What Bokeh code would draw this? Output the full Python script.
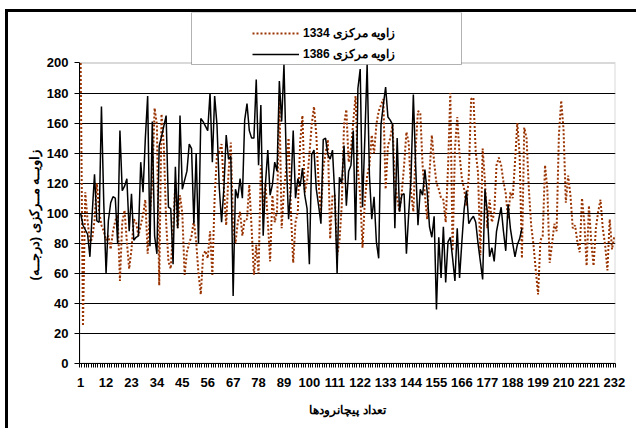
from bokeh.plotting import figure
from bokeh.models import Range1d, FixedTicker, Legend, LegendItem, BoxAnnotation, Title
from bokeh.embed import file_html
from bokeh.resources import INLINE

categories = list(range(1, 233))
x_tick_labels = [1, 12, 23, 34, 45, 56, 67, 78, 89, 100, 111, 122, 133, 144,
                 155, 166, 177, 188, 199, 210, 221, 232]
y_ticks = [0, 20, 40, 60, 80, 100, 120, 140, 160, 180, 200]

name_1334 = "زاویه مرکزی 1334"
name_1386 = "زاویه مرکزی 1386"
x_title = "تعداد پیچانرودها"
y_title = "زاویــه مــرکزی (درجــه)"

series_1334 = [
    200, 25, 114, 95, 81, 83, 95, 120, 101, 92,
    88, 82, 85, 76, 88, 95, 99, 55, 94, 102,
    81, 63, 76, 96, 94, 85, 92, 99, 109, 73,
    100, 120, 170, 159, 52, 166, 145, 94, 68, 63,
    90, 121, 90, 112, 100, 59, 74, 80, 85, 95,
    81, 60, 46, 72, 75, 70, 88, 59, 111, 139,
    141, 146, 116, 92, 127, 147, 90, 80, 94, 101,
    85, 96, 96, 119, 90, 59, 79, 60, 132, 103,
    120, 95, 68, 112, 94, 101, 178, 90, 116, 130,
    150, 101, 67, 94, 101, 147, 165, 114, 121, 139,
    159, 171, 152, 120, 100, 130, 140, 149, 83, 112,
    112, 72, 81, 105, 159, 169, 134, 143, 161, 178,
    129, 112, 77, 108, 125, 132, 152, 140, 159, 168,
    172, 176, 116, 145, 150, 159, 121, 110, 101, 114,
    132, 154, 147, 114, 101, 143, 168, 167, 132, 112,
    96, 127, 152, 134, 120, 116, 110, 109, 94, 130,
    180, 75, 143, 164, 139, 123, 116, 105, 125, 176,
    177, 141, 127, 72, 143, 121, 90, 109, 94, 100,
    132, 137, 132, 121, 113, 96, 114, 110, 134, 160,
    139, 70, 157, 150, 116, 92, 79, 62, 46, 82,
    85, 132, 116, 67, 79, 93, 88, 152, 175, 156,
    107, 125, 112, 90, 92, 81, 74, 110, 94, 65,
    105, 81, 65, 90, 101, 109, 90, 79, 62, 96,
    76, 85,
]

series_1386 = [
    100, 92, 89, 86, 71, 100, 126, 95, 94, 171,
    107, 60, 95, 107, 111, 110, 80, 155, 115, 118,
    123, 88, 113, 82, 84, 85, 134, 114, 150, 178,
    78, 161, 85, 73, 145, 151, 158, 165, 104, 103,
    66, 131, 90, 165, 116, 122, 128, 146, 143, 93,
    140, 80, 163, 161, 158, 155, 180, 134, 178, 159,
    117, 94, 117, 152, 136, 138, 45, 116, 110, 123,
    110, 162, 173, 155, 150, 150, 189, 132, 172, 85,
    120, 142, 112, 119, 134, 128, 188, 161, 199, 136,
    96, 116, 155, 110, 123, 118, 130, 112, 103, 66,
    139, 142, 116, 105, 93, 149, 150, 139, 136, 142,
    112, 60, 124, 120, 145, 105, 128, 132, 155, 82,
    183, 196, 104, 150, 199, 125, 96, 111, 81, 70,
    159, 172, 184, 164, 162, 159, 90, 150, 101, 112,
    113, 73, 100, 124, 179, 132, 92, 116, 112, 129,
    114, 91, 84, 98, 36, 84, 57, 91, 54, 81,
    84, 70, 55, 90, 57, 81, 103, 115, 93, 96,
    98, 94, 80, 68, 56, 116, 101, 71, 77, 68,
    88, 96, 104, 88, 75, 106, 90, 80, 71, 79,
    83, 90,
]

FONT = "Liberation Sans"
C1334 = "#993300"
X_MIN, X_MAX = 0.5, 232.5
Y_MIN, Y_MAX = 0, 200
Y_TOP = 233.6   # headroom above the plot area for the legend

p = figure(frame_width=536, frame_height=351,
           min_border_left=71, min_border_right=21,
           min_border_top=0, min_border_bottom=65,
           x_range=Range1d(X_MIN, X_MAX), y_range=Range1d(Y_MIN, Y_TOP),
           output_backend="svg", toolbar_location=None,
           background_fill_color="white", border_fill_color="white")

# outer chart border (thick black on the top and left)
p.styles = {"margin-left": "5px", "margin-top": "9px",
            "border-left": "3px solid black", "border-top": "3px solid black"}

p.outline_line_color = None

# plot-area border (grey)
p.add_layout(BoxAnnotation(left=X_MIN, right=X_MAX, bottom=Y_MIN, top=Y_MAX,
                           fill_alpha=0, line_color="#808080", line_width=2,
                           level="underlay"))

# gridlines
p.xgrid.visible = False
p.ygrid.ticker = FixedTicker(ticks=y_ticks[1:-1])
p.ygrid.grid_line_color = "#000000"
p.ygrid.grid_line_width = 1

# x axis
xa = p.xaxis[0]
xa.ticker = FixedTicker(ticks=x_tick_labels,
                        minor_ticks=[k + 0.5 for k in range(0, 233)])
xa.axis_line_color = "black"
xa.major_tick_out = 0
xa.major_tick_in = 0
xa.minor_tick_out = 4
xa.minor_tick_in = 0
xa.minor_tick_line_color = "black"
xa.major_label_standoff = 10
xa.major_label_text_font = FONT
xa.major_label_text_font_style = "bold"
xa.major_label_text_font_size = "13px"
xa.major_label_text_color = "black"
xa.axis_label = x_title
xa.axis_label_text_font = FONT
xa.axis_label_text_font_style = "bold"
xa.axis_label_text_font_size = "12px"
xa.axis_label_standoff = 13
xa.axis_label_text_color = "black"

# y axis
ya = p.yaxis[0]
ya.ticker = FixedTicker(ticks=y_ticks)
ya.bounds = (Y_MIN, Y_MAX)
ya.axis_line_color = "black"
ya.major_tick_out = 5
ya.major_tick_in = 0
ya.minor_tick_line_color = None
ya.major_label_standoff = 6
ya.major_label_text_font = FONT
ya.major_label_text_font_style = "bold"
ya.major_label_text_font_size = "13px"
ya.major_label_text_color = "black"

p.add_layout(Title(text=y_title, align="left", offset=83, standoff=4,
                   text_font=FONT, text_font_style="bold",
                   text_font_size="13px", text_color="black"), "left")

r1 = p.line(categories, series_1334, line_color=C1334, line_width=2,
            line_dash="2 2")
r2 = p.line(categories[:len(series_1386)], series_1386, line_color="black",
            line_width=1.5)

# legend frame
p.add_layout(BoxAnnotation(left=112, right=382, top=351, bottom=299,
                           left_units="screen", right_units="screen",
                           top_units="screen", bottom_units="screen",
                           fill_color="white", fill_alpha=1,
                           line_color="black", line_width=1))

legend = Legend(items=[LegendItem(label=name_1334, renderers=[r1]),
                       LegendItem(label=name_1386, renderers=[r2])],
                location=(173, 299), padding=6, spacing=1, margin=0,
                glyph_width=47, glyph_height=20, label_height=20,
                label_standoff=4,
                border_line_color=None, background_fill_alpha=0,
                label_text_font=FONT, label_text_font_style="bold",
                label_text_font_size="12px", label_text_color="black")
p.add_layout(legend, "center")

open("out.html", "w").write(file_html(p, INLINE))
